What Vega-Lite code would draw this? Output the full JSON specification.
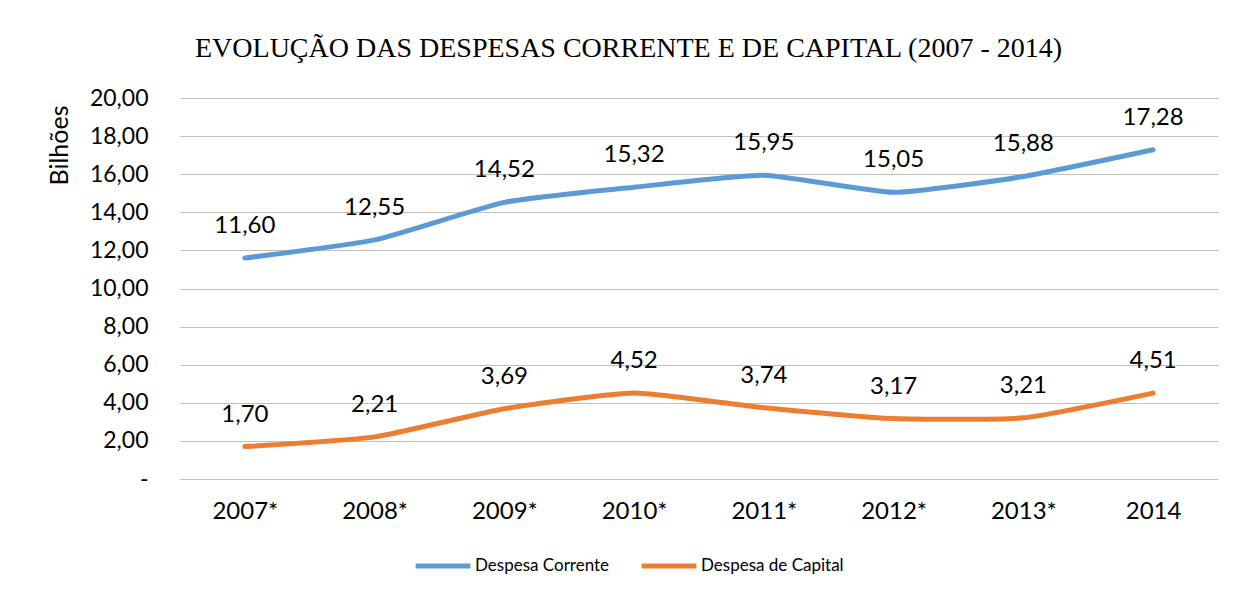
{
  "$schema": "https://vega.github.io/schema/vega-lite/v6.json",
  "width": 1038,
  "height": 381,
  "autosize": {"type": "none"},
  "padding": {"left": 180, "top": 98, "right": 17, "bottom": 113},
  "background": "white",
  "title": {
    "text": "EVOLUÇÃO DAS DESPESAS CORRENTE E DE CAPITAL (2007 - 2014)",
    "font": "Liberation Serif",
    "fontSize": 28,
    "fontWeight": "normal",
    "color": "#000000",
    "anchor": "start",
    "frame": "group",
    "dx": 15,
    "offset": 24
  },
  "data": {
    "values": [
      {"ano": "2007*", "serie": "Despesa Corrente", "valor": 11.60},
      {"ano": "2008*", "serie": "Despesa Corrente", "valor": 12.55},
      {"ano": "2009*", "serie": "Despesa Corrente", "valor": 14.52},
      {"ano": "2010*", "serie": "Despesa Corrente", "valor": 15.32},
      {"ano": "2011*", "serie": "Despesa Corrente", "valor": 15.95},
      {"ano": "2012*", "serie": "Despesa Corrente", "valor": 15.05},
      {"ano": "2013*", "serie": "Despesa Corrente", "valor": 15.88},
      {"ano": "2014", "serie": "Despesa Corrente", "valor": 17.28},
      {"ano": "2007*", "serie": "Despesa de Capital", "valor": 1.70},
      {"ano": "2008*", "serie": "Despesa de Capital", "valor": 2.21},
      {"ano": "2009*", "serie": "Despesa de Capital", "valor": 3.69},
      {"ano": "2010*", "serie": "Despesa de Capital", "valor": 4.52},
      {"ano": "2011*", "serie": "Despesa de Capital", "valor": 3.74},
      {"ano": "2012*", "serie": "Despesa de Capital", "valor": 3.17},
      {"ano": "2013*", "serie": "Despesa de Capital", "valor": 3.21},
      {"ano": "2014", "serie": "Despesa de Capital", "valor": 4.51}
    ]
  },
  "encoding": {
    "x": {
      "field": "ano",
      "type": "ordinal",
      "sort": null,
      "scale": {"type": "point", "padding": 0.5},
      "axis": {
        "title": null,
        "labelAngle": 0,
        "labelFont": "Lato",
        "labelFontSize": 24,
        "labelColor": "#000000",
        "labelPadding": 20,
        "ticks": false,
        "domain": false,
        "grid": false
      }
    },
    "y": {
      "field": "valor",
      "type": "quantitative",
      "scale": {"domain": [0, 20], "nice": false},
      "axis": {
        "title": "Bilhões",
        "titleFont": "Lato",
        "titleFontSize": 25,
        "titleFontWeight": "normal",
        "titleColor": "#000000",
        "titleX": -121,
        "titleY": 47,
        "titleAlign": "center",
        "titleBaseline": "middle",
        "values": [0, 2, 4, 6, 8, 10, 12, 14, 16, 18, 20],
        "labelExpr": "datum.value == 0 ? '-' : replace(format(datum.value, '.2f'), '.', ',')",
        "labelFont": "Lato",
        "labelFontSize": 23,
        "labelColor": "#000000",
        "labelPadding": 32,
        "ticks": false,
        "domain": false,
        "grid": true,
        "gridColor": "#bfbfbf",
        "gridWidth": 1
      }
    },
    "color": {
      "field": "serie",
      "type": "nominal",
      "scale": {"domain": ["Despesa Corrente", "Despesa de Capital"], "range": ["#5B9BD5", "#ED7D31"]},
      "legend": {
        "title": null,
        "orient": "none",
        "direction": "horizontal",
        "legendX": 233,
        "legendY": 438,
        "symbolType": "stroke",
        "symbolSize": 3000,
        "symbolStrokeWidth": 5,
        "labelFont": "Lato",
        "labelFontSize": 17,
        "labelColor": "#000000",
        "labelOffset": 2,
        "columnPadding": 21
      }
    }
  },
  "layer": [
    {
      "mark": {"type": "line", "interpolate": "cardinal", "tension": 0.5, "strokeWidth": 5, "strokeCap": "round"}
    },
    {
      "mark": {"type": "text", "font": "Lato", "fontSize": 24, "color": "#000000", "dy": -32, "baseline": "middle", "align": "center"},
      "encoding": {
        "text": {"field": "valor", "type": "quantitative", "format": ",.2f", "formatType": "number"},
        "color": {"value": "#000000"}
      }
    }
  ],
  "config": {
    "locale": {"number": {"decimal": ",", "thousands": ".", "grouping": [3], "currency": ["R$", ""]}},
    "view": {"stroke": null}
  }
}
